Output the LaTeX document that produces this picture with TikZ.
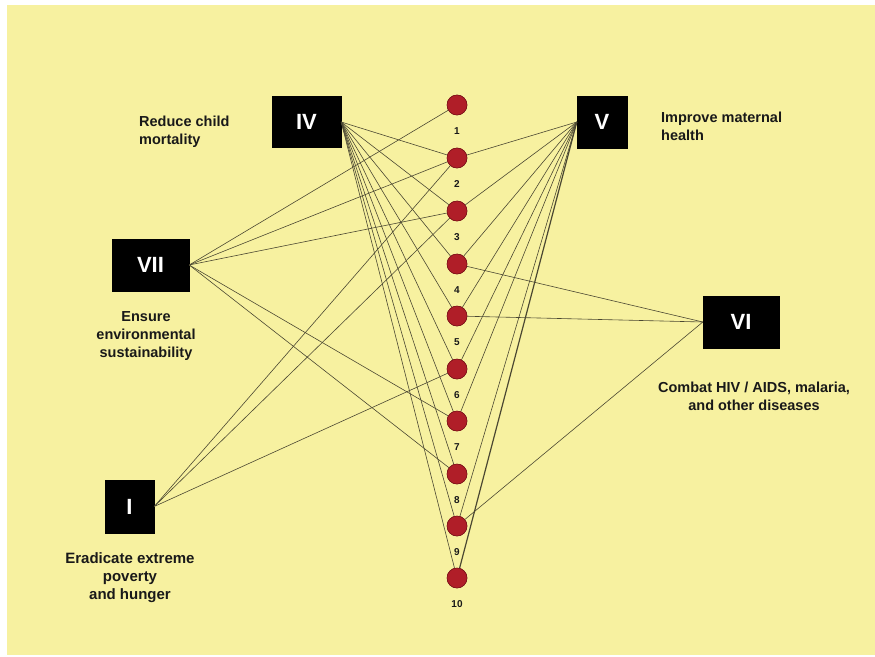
\documentclass[tikz,border=0pt]{standalone}
\usepackage{fontspec}
\setmainfont{Liberation Sans}
\definecolor{bgyellow}{RGB}{247,241,160}
\definecolor{dotred}{RGB}{176,30,40}
\definecolor{dotedge}{RGB}{120,20,25}
\definecolor{linkcol}{RGB}{75,72,50}
\definecolor{txt}{RGB}{25,25,25}
\begin{document}
\begin{tikzpicture}[x=1pt,y=-1pt,
  goal/.style={fill=black,draw=black,inner sep=0pt,text=white,font=\bfseries\fontsize{22}{22}\selectfont},
  dot/.style={circle,fill=dotred,draw=dotedge,line width=0.5pt,minimum size=20pt,inner sep=0pt},
  num/.style={font=\bfseries\fontsize{10}{10}\selectfont,text=txt,inner sep=0pt},
  desc/.style={font=\bfseries\fontsize{14.5}{18}\selectfont,text=txt,inner sep=0pt},
  link/.style={draw=linkcol,line width=0.6pt}]
\useasboundingbox (0,0) rectangle (875,656);
\fill[white] (0,0) rectangle (875,656);
\fill[bgyellow] (7,5) rectangle (875,655);

% goal boxes
\node[goal,minimum width=69pt,minimum height=51pt] (IV) at (306.5,122) {IV};
\node[goal,minimum width=50pt,minimum height=52pt] (V) at (602,122) {V};
\node[goal,minimum width=77pt,minimum height=52pt] (VII) at (150.5,265) {VII};
\node[goal,minimum width=49pt,minimum height=53pt] (I) at (129.5,506.5) {I};
\node[goal,minimum width=76pt,minimum height=52pt] (VI) at (741,322) {VI};

% dots
\foreach \i/\y in {1/105,2/158,3/211,4/264,5/316,6/369,7/421,8/474,9/526,10/578}{
  \node[dot] (c\i) at (457,\y) {};
  \node[num] (n\i) at (457,\y+26) {\i};
}

% links
\foreach \k in {2,3,4,5,6,7,8,9,10} \draw[link] (IV.east) -- (c\k);
\foreach \k in {2,3,4,5,6,7,9} \draw[link] (V.west) -- (c\k);
\draw[link,line width=1.2pt] (V.west) -- (c10);
\foreach \k in {1,2,3,7,8} \draw[link] (VII.east) -- (c\k);
\foreach \k in {2,3,6} \draw[link] (I.east) -- (c\k);
\foreach \k in {4,5,9} \draw[link] (VI.west) -- (c\k);

% redraw dots on top
\foreach \i in {1,...,10}{
  \fill[dotred,draw=dotedge,line width=0.5pt] (c\i.center) circle (10pt);
}

% descriptions
\node[desc,align=left,anchor=north west] (tIV) at (139,116) {Reduce child\\mortality};
\node[desc,align=left,anchor=north west] (tV) at (661,112) {Improve maternal\\health};
\node[desc,align=center] (tVII) at (146,336) {Ensure\\environmental\\sustainability};
\node[desc,align=center] (tVI) at (754,396) {Combat HIV / AIDS, malaria,\\and other diseases};
\node[desc,align=center,font=\bfseries\fontsize{15}{18}\selectfont] (tI) at (130,577.5) {Eradicate extreme\\poverty\\and hunger};
\end{tikzpicture}
\end{document}
